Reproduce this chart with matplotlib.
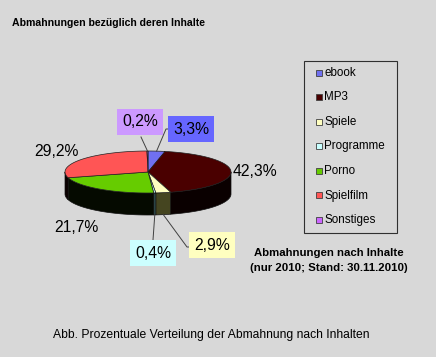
import numpy as np
import matplotlib
matplotlib.use("Agg")
import matplotlib.pyplot as plt
from matplotlib.patches import Polygon, Rectangle

plt.rcParams['font.family'] = ['Liberation Sans', 'DejaVu Sans']

# data
categories = ['ebook', 'MP3', 'Spiele', 'Programme', 'Porno', 'Spielfilm', 'Sonstiges']
values = [3.3, 42.3, 2.9, 0.4, 21.7, 29.2, 0.2]
labels = ['3,3%', '42,3%', '2,9%', '0,4%', '21,7%', '29,2%', '0,2%']
colors = ['#7070f0', '#4a0000', '#ffffc0', '#c8ffff', '#66cc00', '#ff5555', '#cc66ff']
side_colors = ['#202060', '#0a0000', '#454520', '#305050', '#050a00', '#0a0000', '#302040']
label_box = ['#6666ff', None, '#ffffc0', '#ccffff', None, None, '#cc99ff']

bg = '#d8d8d8'
fig = plt.figure(figsize=(4.36, 3.57), dpi=100, facecolor=bg)
ax = fig.add_axes([0, 0, 1, 1])
ax.set_xlim(0, 436)
ax.set_ylim(357, 0)
ax.axis('off')
ax.set_facecolor(bg)

# pie geometry (pixels)
cx, cy, rx, ry, depth = 148, 172, 83, 21, 22


def pt(t):
    return cx + rx * np.sin(t), cy - ry * np.cos(t)


bounds = np.concatenate([[0], np.cumsum(values)]) / sum(values) * 2 * np.pi

# side walls (front half only)
for i in range(len(values)):
    a0, a1 = max(bounds[i], np.pi / 2), min(bounds[i + 1], 3 * np.pi / 2)
    if a1 <= a0:
        continue
    t = np.linspace(a0, a1, 60)
    x, y = pt(t)
    verts = list(zip(x, y)) + list(zip(x[::-1], y[::-1] + depth))
    ax.add_patch(Polygon(verts, closed=True, facecolor=side_colors[i],
                         edgecolor='#101010', lw=0.5))

# top faces
for i in range(len(values)):
    t = np.linspace(bounds[i], bounds[i + 1], 120)
    x, y = pt(t)
    verts = [(cx, cy)] + list(zip(x, y))
    ax.add_patch(Polygon(verts, closed=True, facecolor=colors[i],
                         edgecolor='#202020', lw=0.5))

# data labels: (text position, leader elbow)
label_pos = [(191, 129), (255, 172), (212, 245), (153, 253), (76, 227), (56, 152), (140, 122)]
leaders = {
    0: [(171, 129), (166, 129)],
    2: [(192, 247), (187, 247)],
    3: [(153, 240)],
    6: [(141, 137)],
}
for i, lab in enumerate(labels):
    x, y = label_pos[i]
    kw = {}
    if label_box[i]:
        kw['bbox'] = dict(boxstyle='square,pad=0.35', facecolor=label_box[i], edgecolor='none')
    ax.text(x, y, lab, fontsize=11.3, ha='center', va='center', **kw)
    if i in leaders:
        mid = (bounds[i] + bounds[i + 1]) / 2
        ex, ey = pt(mid)
        if np.cos(mid) < 0:
            ey += depth
        pts = leaders[i] + [(ex, ey)]
        ax.plot([p[0] for p in pts], [p[1] for p in pts], color='#404040', lw=0.7)

# legend
ax.add_patch(Rectangle((304, 61), 93, 172, facecolor='none', edgecolor='#303030', lw=0.8))
for i, cat in enumerate(categories):
    ly = 73 + i * 24.5
    ax.add_patch(Rectangle((316, ly - 3.5), 6, 6, facecolor=colors[i], edgecolor='#404040', lw=0.6))
    ax.text(324, ly, cat, fontsize=8.4, ha='left', va='center')

# texts
ax.text(12, 23, 'Abmahnungen bezüglich deren Inhalte', fontsize=7.6, fontweight='bold',
        ha='left', va='center')
ax.text(329, 253, 'Abmahnungen nach Inhalte', fontsize=8.2, fontweight='bold',
        ha='center', va='center')
ax.text(329, 268, '(nur 2010; Stand: 30.11.2010)', fontsize=8.2, fontweight='bold',
        ha='center', va='center')
ax.text(211, 335, 'Abb. Prozentuale Verteilung der Abmahnung nach Inhalten', fontsize=8.7,
        ha='center', va='center')

fig.savefig('out.png', dpi=100, facecolor=bg)
